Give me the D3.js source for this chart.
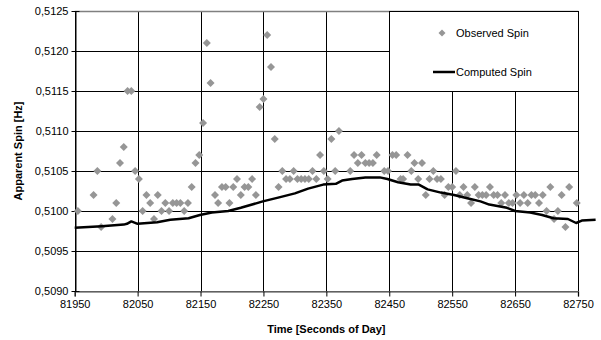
<!DOCTYPE html>
<html><head><meta charset="utf-8">
<script src="https://cdn.jsdelivr.net/npm/d3@7"></script>
<style>body{margin:0;background:#fff}svg{display:block;font-family:"Liberation Sans",Arial,sans-serif}</style>
</head><body><svg id="c" width="601" height="340"></svg>
<script>
const obsTime = [81955,81980,81986,81992,82010,82016,82022,82028,82034,82040,82046,82052,82058,82064,82070,82076,82082,82088,82094,82100,82106,82112,82118,82124,82130,82136,82142,82148,82154,82160,82166,82173,82178,82184,82190,82196,82202,82208,82214,82220,82226,82232,82238,82244,82250,82256,82262,82268,82274,82280,82286,82292,82298,82304,82310,82316,82322,82328,82334,82340,82346,82352,82358,82364,82370,82388,82394,82400,82406,82412,82418,82424,82430,82442,82448,82455,82461,82468,82472,82479,82485,82490,82496,82502,82508,82514,82520,82526,82532,82538,82544,82550,82556,82562,82568,82574,82580,82586,82592,82598,82604,82610,82616,82622,82628,82634,82640,82646,82652,82658,82664,82670,82676,82682,82688,82694,82700,82706,82712,82718,82724,82730,82736,82748];
const obsSpin = [0.5100,0.5102,0.5105,0.5098,0.5099,0.5101,0.5106,0.5108,0.5115,0.5115,0.5105,0.5104,0.5100,0.5102,0.5101,0.5099,0.5102,0.5100,0.5101,0.5100,0.5101,0.5101,0.5101,0.5100,0.5101,0.5103,0.5106,0.5107,0.5111,0.5121,0.5116,0.5102,0.5101,0.5103,0.5103,0.5101,0.5103,0.5104,0.5102,0.5103,0.5103,0.5104,0.5102,0.5113,0.5114,0.5122,0.5118,0.5109,0.5103,0.5105,0.5104,0.5104,0.5105,0.5104,0.5104,0.5104,0.5104,0.5105,0.5104,0.5107,0.5105,0.5104,0.5109,0.5105,0.5110,0.5105,0.5107,0.5106,0.5107,0.5106,0.5106,0.5106,0.5107,0.5105,0.5105,0.5107,0.5107,0.5104,0.5104,0.5107,0.5105,0.5106,0.5104,0.5106,0.5102,0.5104,0.5105,0.5104,0.5104,0.5102,0.5103,0.5103,0.5105,0.5102,0.5103,0.5102,0.5101,0.5103,0.5102,0.5102,0.5102,0.5103,0.5102,0.5102,0.5101,0.5102,0.5101,0.5101,0.5102,0.5101,0.5102,0.5101,0.5102,0.5102,0.5101,0.5102,0.5100,0.5103,0.5099,0.5100,0.5102,0.5098,0.5103,0.5101];
const compTime = [81950,81993,82028,82033,82040,82050,82081,82102,82131,82149,82168,82194,82214,82249,82275,82300,82321,82345,82365,82375,82391,82412,82435,82447,82464,82484,82497,82511,82532,82553,82574,82595,82609,82637,82650,82674,82693,82711,82734,82747,82756,82778];
const compSpin = [0.50979,0.50981,0.50983,0.50984,0.50987,0.50984,0.50986,0.50989,0.50991,0.50995,0.50998,0.51000,0.51004,0.51012,0.51017,0.51022,0.51028,0.51033,0.51034,0.51038,0.51040,0.51042,0.51042,0.51040,0.51036,0.51033,0.51033,0.51027,0.51023,0.51020,0.51016,0.51012,0.51008,0.51004,0.51000,0.50998,0.50995,0.50991,0.50990,0.50985,0.50988,0.50989];
const xTicks = [81950,82050,82150,82250,82350,82450,82550,82650,82750];
const yTicks = [0.5090,0.5095,0.5100,0.5105,0.5110,0.5115,0.5120,0.5125];
const seriesNames = ["Observed Spin","Computed Spin"];
const xTitle = "Time [Seconds of Day]";
const yTitle = "Apparent Spin [Hz]";

const L = 74.7, R = 578, T = 11, B = 291;
const svg = d3.select("#c");
const x = d3.scaleLinear().domain([81950,82750]).range([L,R]);
const y = d3.scaleLinear().domain([0.5090,0.5125]).range([B,T]);
const loc = d3.formatLocale({decimal:",",thousands:".",grouping:[3],currency:["",""]});
const fy = loc.format(".4f");

svg.append("rect").attr("width",601).attr("height",340).attr("fill","#fff");
// gridlines
const g = svg.append("g");
g.selectAll(".hg").data(yTicks).join("line")
  .attr("x1",L).attr("x2",R).attr("y1",d=>Math.round(y(d))+0.5).attr("y2",d=>Math.round(y(d))+0.5)
  .attr("stroke","#000").attr("stroke-width",1);
g.selectAll(".vg").data(xTicks).join("line")
  .attr("y1",T).attr("y2",B).attr("x1",d=>Math.round(x(d))+0.5).attr("x2",d=>Math.round(x(d))+0.5)
  .attr("stroke","#000").attr("stroke-width",1);
// plot border top (gray)
svg.append("line").attr("x1",L).attr("x2",R+0.5).attr("y1",T+0.5).attr("y2",T+0.5).attr("stroke","#808080").attr("stroke-width",1.5);

// axes
const xAxis = d3.axisBottom(x).tickValues(xTicks).tickSize(5).tickPadding(4).tickFormat(d3.format("d"));
const xa = svg.append("g").attr("transform",`translate(0,${Math.round(B)+0.5})`).call(xAxis);
xa.select(".domain").attr("stroke","#808080").attr("stroke-width",1.5);
xa.selectAll(".tick line").attr("stroke","#000");
xa.selectAll("text").attr("font-size",11).attr("fill","#000").attr("font-family","Liberation Sans, Arial");

const yAxis = d3.axisLeft(y).tickValues(yTicks).tickSizeInner(4).tickSizeOuter(0).tickPadding(4).tickFormat(fy);
const ya = svg.append("g").attr("transform",`translate(${Math.round(L)+0.5},0)`).call(yAxis);
ya.select(".domain").attr("stroke","#000");
ya.selectAll(".tick line").attr("x2",4).attr("x1",-4).attr("stroke","#000");
ya.selectAll("text").attr("font-size",11).attr("fill","#000").attr("x",-7).attr("font-family","Liberation Sans, Arial");

// observed diamonds
const dia = (cx,cy,r)=>`M${cx},${cy-r}L${cx+r},${cy}L${cx},${cy+r}L${cx-r},${cy}Z`;
svg.append("g").selectAll("path").data(obsTime.map((t,i)=>[t,obsSpin[i]])).join("path")
  .attr("d",d=>dia(x(d[0]),y(d[1]),4)).attr("fill","#969696");

// computed line
svg.append("path").datum(compTime.map((t,i)=>[t,compSpin[i]]))
  .attr("d",d3.line().x(d=>x(d[0])).y(d=>y(d[1])))
  .attr("fill","none").attr("stroke","#000").attr("stroke-width",2.5).attr("stroke-linejoin","round");

// legend
const lg = svg.append("g");
lg.append("rect").attr("x",389.5).attr("y",11.5).attr("width",189).attr("height",80).attr("fill","#fff").attr("stroke","#000").attr("stroke-width",1);
lg.append("path").attr("d",dia(442,33,3.5)).attr("fill","#969696");
lg.append("text").attr("x",456).attr("y",37).attr("font-size",11).text(seriesNames[0]);
lg.append("line").attr("x1",433).attr("x2",455).attr("y1",72).attr("y2",72).attr("stroke","#000").attr("stroke-width",2.5);
lg.append("text").attr("x",456).attr("y",76).attr("font-size",11).text(seriesNames[1]);

// titles
svg.append("text").attr("x",(L+R)/2).attr("y",333).attr("text-anchor","middle").attr("font-size",11).attr("font-weight","bold").text(xTitle);
svg.append("text").attr("transform",`translate(22,${(T+B)/2}) rotate(-90)`).attr("text-anchor","middle").attr("font-size",11).attr("font-weight","bold").text(yTitle);
</script></body></html>
